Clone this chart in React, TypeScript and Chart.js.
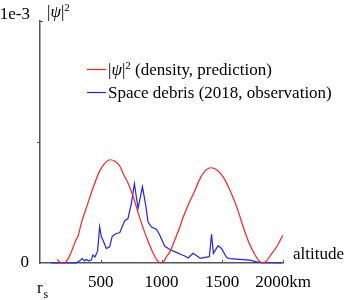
import React, { useEffect, useRef } from "react";
import { Chart, registerables } from "chart.js";

Chart.register(...registerables);

// Altitude (km) and |psi|^2 density (prediction)
const densityAltitude = [142, 165, 185, 206, 233, 253, 274, 296, 315, 343, 384, 439, 494, 535, 576, 617, 658, 686, 727, 768, 809, 850, 891, 932, 963, 993, 1021, 1045, 1070, 1125, 1152, 1179, 1207, 1235, 1262, 1317, 1358, 1405, 1454, 1509, 1564, 1619, 1673, 1728, 1770, 1798, 1831, 1860, 1893, 1948, 1998];
const densityValue = [0.000015, 0.000003, 0.0, 0.000002, 0.000019, 0.00004, 0.000067, 0.000095, 0.000115, 0.00017, 0.000232, 0.000314, 0.000383, 0.000413, 0.000427, 0.000421, 0.0004, 0.000368, 0.000328, 0.000273, 0.000205, 0.000143, 0.000088, 0.00004, 0.000012, 0.0, 0.000008, 0.00003, 0.000047, 0.000115, 0.00015, 0.00019, 0.000225, 0.000257, 0.000285, 0.000349, 0.00038, 0.000394, 0.000386, 0.000355, 0.0003, 0.000232, 0.000149, 0.000074, 0.000033, 0.000012, 0.0, 0.000006, 0.000029, 0.000067, 0.000115];

// Space debris (2018, observation)
const debrisAltitude = [92, 299, 326, 348, 367, 381, 402, 422, 435, 452, 474, 491, 505, 518, 546, 573, 595, 628, 656, 678, 697, 724, 752, 777, 807, 843, 870, 889, 917, 958, 986, 1027, 1068, 1123, 1165, 1192, 1219, 1260, 1288, 1319, 1384, 1394, 1412, 1427, 1466, 1494, 1536, 1563, 1645, 1728, 1783, 1838, 1990];
const debrisValue = [0.0, 0.0, 0.000009, 0.000018, 0.000009, 0.000015, 0.000009, 0.000012, 0.000033, 0.000025, 0.000049, 0.000149, 0.000108, 0.000095, 0.00006, 0.000067, 0.000111, 0.000122, 0.000125, 0.000152, 0.000175, 0.000184, 0.000246, 0.000328, 0.000225, 0.000315, 0.000239, 0.00017, 0.000149, 0.00014, 0.000115, 0.000069, 0.000056, 0.000044, 0.000034, 0.000029, 0.000021, 0.00004, 0.000031, 0.000019, 0.000025, 0.000027, 0.000119, 0.00004, 0.000072, 0.00006, 0.000023, 0.000018, 0.000015, 0.000012, 0.000005, 0.000001, 0.0];

const xTicks = [0, 500, 1000, 1500, 2000];
const xTickLabels = ["", "500", "1000", "1500", "2000km"];
const yTicks = [0, 0.0005, 0.001];
const yTickLabels = ["0", "", ""];
const yTopLabel = "1e-3";
const legendLabels = [" (density, prediction)", "Space debris (2018, observation)"];

const SERIF = '"Liberation Serif", "Times New Roman", serif';

function drawPsi2(ctx: CanvasRenderingContext2D, x: number, y: number, size: number): number {
  ctx.textAlign = "left";
  ctx.font = `${size}px ${SERIF}`;
  let cx = x;
  ctx.fillText("|", cx, y);
  cx += ctx.measureText("|").width;
  ctx.font = `italic ${size}px ${SERIF}`;
  ctx.fillText("ψ", cx, y);
  cx += ctx.measureText("ψ").width;
  ctx.font = `${size}px ${SERIF}`;
  ctx.fillText("|", cx, y);
  cx += ctx.measureText("|").width;
  const small = Math.round(size * 0.62);
  ctx.font = `${small}px ${SERIF}`;
  ctx.fillText("2", cx, y - size * 0.38);
  cx += ctx.measureText("2").width;
  return cx - x;
}

const decorPlugin = {
  id: "decor",
  afterDraw(chart: any) {
    const ctx: CanvasRenderingContext2D = chart.ctx;
    const xs = chart.scales.x;
    const ys = chart.scales.y;
    const area = chart.chartArea;
    ctx.save();
    // tick marks
    ctx.strokeStyle = "#555";
    ctx.lineWidth = 1;
    ctx.beginPath();
    for (const v of xTicks.slice(1)) {
      const px = Math.round(xs.getPixelForValue(v)) + 0.5;
      ctx.moveTo(px, area.bottom);
      ctx.lineTo(px, area.bottom - 3);
    }
    const ym = Math.round(ys.getPixelForValue(yTicks[1])) + 0.5;
    ctx.moveTo(area.left, ym);
    ctx.lineTo(area.left - 3, ym);
    const yt = Math.round(ys.getPixelForValue(yTicks[2])) + 0.5;
    ctx.moveTo(area.left - 1, yt);
    ctx.lineTo(area.left + 3, yt);
    ctx.stroke();

    ctx.fillStyle = "#000";
    ctx.textBaseline = "alphabetic";
    // 1e-3 label
    ctx.font = `17px ${SERIF}`;
    ctx.textAlign = "right";
    ctx.fillText(yTopLabel, 30, 19);
    // |psi|^2 axis title
    drawPsi2(ctx, 47, 17, 17);
    // altitude
    ctx.font = `17px ${SERIF}`;
    ctx.textAlign = "left";
    ctx.fillText("altitude", 293, 259);
    // r_s
    ctx.font = `17px ${SERIF}`;
    ctx.fillText("r", 37, 293);
    ctx.font = `12px ${SERIF}`;
    ctx.fillText("s", 43.5, 298);

    // legend
    const rows = [
      { y: 69.5, color: "#ff2020" },
      { y: 92.5, color: "#2020ff" },
    ];
    rows.forEach((r, i) => {
      ctx.strokeStyle = r.color;
      ctx.lineWidth = 1.2;
      ctx.beginPath();
      ctx.moveTo(87, r.y);
      ctx.lineTo(106, r.y);
      ctx.stroke();
      ctx.fillStyle = "#000";
      ctx.textBaseline = "alphabetic";
      let tx = 108;
      if (i === 0) {
        tx += drawPsi2(ctx, tx, r.y + 5.5, 17);
      }
      ctx.font = `17px ${SERIF}`;
      ctx.textAlign = "left";
      ctx.fillText(legendLabels[i], tx, r.y + 5.5);
    });
    ctx.restore();
  },
};

export default function App() {
  const ref = useRef<HTMLCanvasElement | null>(null);
  useEffect(() => {
    if (!ref.current) return;
    const chart = new Chart(ref.current, {
      type: "line",
      data: {
        datasets: [
          {
            label: "density",
            data: densityAltitude.map((x, i) => ({ x, y: densityValue[i] })),
            borderColor: "#ff2020",
            borderWidth: 1.2,
            pointRadius: 0,
            cubicInterpolationMode: "monotone",
            clip: false as any,
            fill: false,
          },
          {
            label: "debris",
            data: debrisAltitude.map((x, i) => ({ x, y: debrisValue[i] })),
            borderColor: "#2020ff",
            borderWidth: 1.2,
            pointRadius: 0,
            tension: 0,
            clip: false as any,
            fill: false,
          },
        ],
      },
      options: {
        responsive: false,
        animation: false,
        events: [],
        layout: { padding: { left: 0, right: 63, top: 20, bottom: 0 } },
        plugins: { legend: { display: false }, tooltip: { enabled: false } },
        scales: {
          x: {
            type: "linear",
            min: 0,
            max: 2000,
            afterBuildTicks: (s: any) => {
              s.ticks = xTicks.map((v) => ({ value: v }));
            },
            afterFit: (s: any) => {
              s.height = 37;
            },
            ticks: {
              autoSkip: false,
              maxRotation: 0,
              padding: 9,
              color: "#000",
              font: { family: SERIF, size: 17 },
              callback: (v: any) => xTickLabels[xTicks.indexOf(Number(v))] ?? "",
            },
            grid: { display: true, drawOnChartArea: false, drawTicks: false },
            border: { display: true, color: "#555", width: 1.5 },
          },
          y: {
            type: "linear",
            min: 0,
            max: 0.001,
            afterBuildTicks: (s: any) => {
              s.ticks = yTicks.map((v) => ({ value: v }));
            },
            afterFit: (s: any) => {
              s.width = 40;
            },
            ticks: {
              padding: 11,
              color: "#000",
              font: { family: SERIF, size: 17 },
              callback: (v: any) => yTickLabels[yTicks.indexOf(Number(v))] ?? "",
            },
            grid: { display: true, drawOnChartArea: false, drawTicks: false },
            border: { display: true, color: "#555", width: 1.5 },
          },
        },
      },
      plugins: [decorPlugin],
    });
    return () => chart.destroy();
  }, []);
  return (
    <div style={{ position: "fixed", left: 0, top: 0, width: 346, height: 300, background: "#fff" }}>
      <canvas ref={ref} width={346} height={300} style={{ display: "block" }} />
    </div>
  );
}
